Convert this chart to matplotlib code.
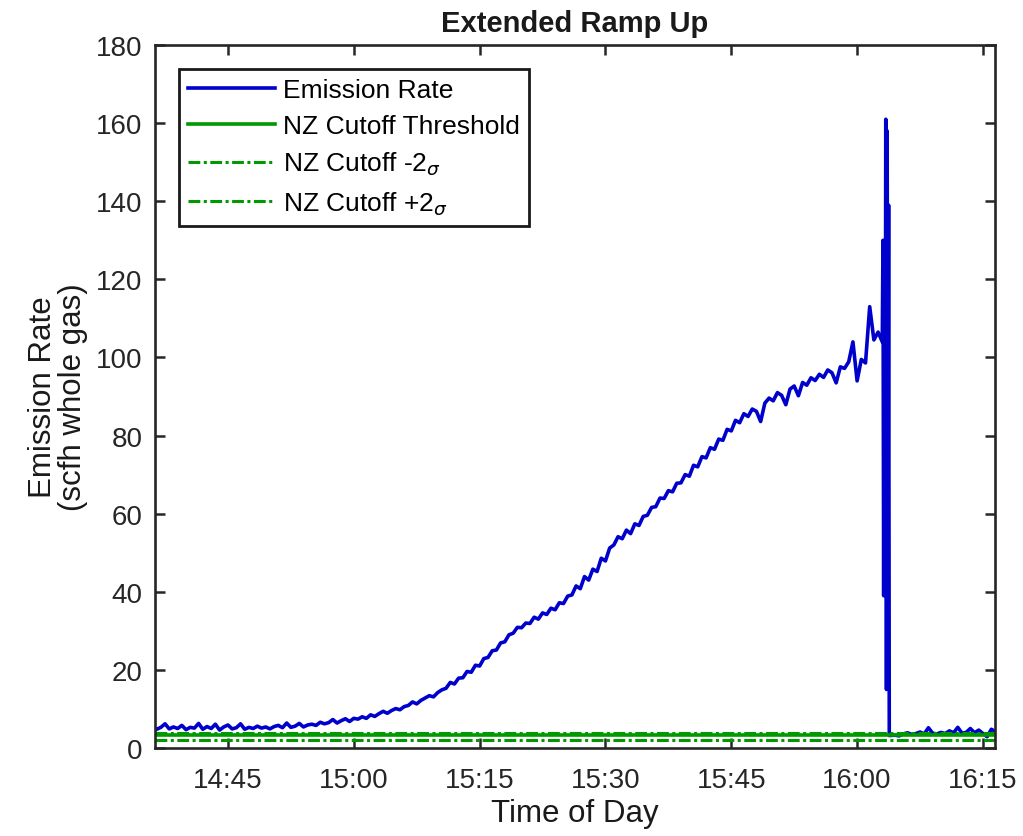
import matplotlib
matplotlib.use("Agg")
import matplotlib.pyplot as plt
import matplotlib.dates as mdates
import pandas as pd

plt.rcParams["font.family"] = ["Liberation Sans", "DejaVu Sans"]
plt.rcParams["lines.scale_dashes"] = False

# Emission rate, 30 s samples from 14:36:00 up to 16:03:00 (scfh whole gas)
ramp_start = "2015-06-10 14:36:00"
ramp_rate = [
    5.6, 4.8, 5.3, 6.2, 4.9, 5.4, 5.0, 5.8, 4.7, 5.3,
    5.1, 6.3, 4.8, 5.5, 5.0, 6.1, 4.6, 5.4, 5.9, 4.9,
    5.2, 6.2, 4.8, 5.3, 5.0, 5.6, 5.1, 5.4, 4.9, 5.5,
    5.8, 5.2, 6.4, 5.3, 5.6, 6.3, 5.4, 5.9, 6.1, 5.8,
    6.6, 6.2, 6.5, 7.3, 6.4, 7.0, 7.5, 6.8, 7.6, 7.4,
    8.0, 7.6, 8.5, 8.1, 8.8, 9.4, 8.9, 9.6, 10.1, 9.8,
    10.6, 10.9, 11.8, 11.3, 12.2, 12.8, 13.4, 13.1, 14.2, 14.9,
    15.3, 16.8, 16.4, 17.9, 18.0, 19.6, 19.4, 21.2, 21.0, 22.9,
    23.2, 24.9, 25.1, 26.9, 27.2, 29.0, 29.4, 30.9, 30.8, 32.0,
    31.9, 33.5, 33.0, 34.6, 34.2, 35.8, 35.4, 37.2, 37.0, 38.9,
    39.2, 41.5, 40.8, 43.9, 43.0, 45.8, 45.2, 48.6, 47.9, 51.2,
    52.0, 54.1, 53.6, 55.8, 54.9, 57.4, 57.0, 59.3, 59.6, 61.6,
    61.8, 64.0, 63.9, 65.9, 65.6, 67.8, 67.9, 70.0, 69.6, 72.4,
    72.0, 74.6, 74.3, 76.9, 76.5, 79.1, 78.8, 81.6, 81.2, 83.9,
    83.3, 85.6, 84.9, 86.8, 86.2, 83.6, 88.3, 89.6, 88.9, 91.0,
    90.3, 87.9, 91.9, 92.7, 90.2, 93.6, 92.9, 94.8, 94.1, 95.7,
    94.9, 96.8, 96.1, 93.5, 97.6, 97.2, 98.9, 104.0, 94.0, 99.5,
    98.6, 113.0, 104.5, 106.5, 104.0,
]

# Upset at 16:03, 5 s samples
spike_start = "2015-06-10 16:03:05"
spike_rate = [130.0, 39.0, 128.0, 40.0, 161.0, 15.0, 158.0, 17.0, 139.0, 3.2]

# After shut-in, 30 s samples from 16:04:30
tail_start = "2015-06-10 16:04:30"
tail_rate = [
    3.3, 3.1, 3.6, 3.9, 3.5, 3.7, 4.1, 3.6, 5.2, 3.8,
    3.6, 4.0, 3.7, 4.4, 3.9, 5.3, 3.8, 4.0, 5.0, 3.9,
    4.6, 3.7, 2.9, 4.8, 4.2, 5.1,
]

# Non-zero cutoff threshold and its +/- 2 sigma band
nz_cutoff = 3.3
nz_minus_2sigma = 2.0
nz_plus_2sigma = 3.9

x_min = "2015-06-10 14:36:18"
x_max = "2015-06-10 16:16:26"
x_ticks = ["14:45", "15:00", "15:15", "15:30", "15:45", "16:00", "16:15"]
y_ticks = [0, 20, 40, 60, 80, 100, 120, 140, 160, 180]

times = (
    list(pd.date_range(ramp_start, periods=len(ramp_rate), freq="30s"))
    + list(pd.date_range(spike_start, periods=len(spike_rate), freq="5s"))
    + list(pd.date_range(tail_start, periods=len(tail_rate), freq="30s"))
)
rate = ramp_rate + spike_rate + tail_rate

fig = plt.figure(figsize=(10.23, 8.37), dpi=100)
ax = fig.add_axes([0.1515, 0.1051, 0.8211, 0.8399])

blue = "#0000cc"
green = "#009900"
ax.plot(times, rate, color=blue, lw=2.6, label="Emission Rate")
ax.axhline(nz_cutoff, color=green, lw=2.6, label="NZ Cutoff Threshold")
dashdot = (0, (8.5, 2.5, 2.2, 2.5))
ax.axhline(nz_minus_2sigma, color=green, lw=2.2, ls=dashdot,
           label=r"NZ Cutoff -2$_{\sigma}$")
ax.axhline(nz_plus_2sigma, color=green, lw=2.2, ls=dashdot,
           label=r"NZ Cutoff +2$_{\sigma}$")

day = "2015-06-10 "
ax.set_xlim(pd.Timestamp(x_min), pd.Timestamp(x_max))
ax.set_xticks([pd.Timestamp(day + t) for t in x_ticks])
ax.xaxis.set_major_formatter(mdates.DateFormatter("%H:%M"))
ax.set_ylim(0, 180)
ax.set_yticks(y_ticks)

ax.tick_params(direction="in", length=7, width=1.8, labelsize=20,
               top=True, right=True, colors="#262626")
ax.tick_params(axis="x", pad=14)
ax.tick_params(axis="y", pad=9)
for spine in ax.spines.values():
    spine.set_color("#262626")
    spine.set_linewidth(1.9)

ax.set_title("Extended Ramp Up", fontsize=21, fontweight="bold",
             color="#1a1a1a", pad=10)
ax.set_xlabel("Time of Day", fontsize=22.5, color="#1a1a1a", labelpad=3)
ax.set_ylabel("Emission Rate\n(scfh whole gas)", fontsize=22.5,
              color="#1a1a1a", labelpad=6, linespacing=1.0)

leg = ax.legend(loc="upper left", fontsize=19, frameon=True, fancybox=False,
                borderaxespad=0.9, handlelength=3.3, handletextpad=0.3,
                labelspacing=0.45, borderpad=0.35)
leg.get_frame().set_edgecolor("#1a1a1a")
leg.get_frame().set_linewidth(2.0)
leg.get_frame().set_alpha(1.0)

fig.savefig("out.png", dpi=100, facecolor="white")
